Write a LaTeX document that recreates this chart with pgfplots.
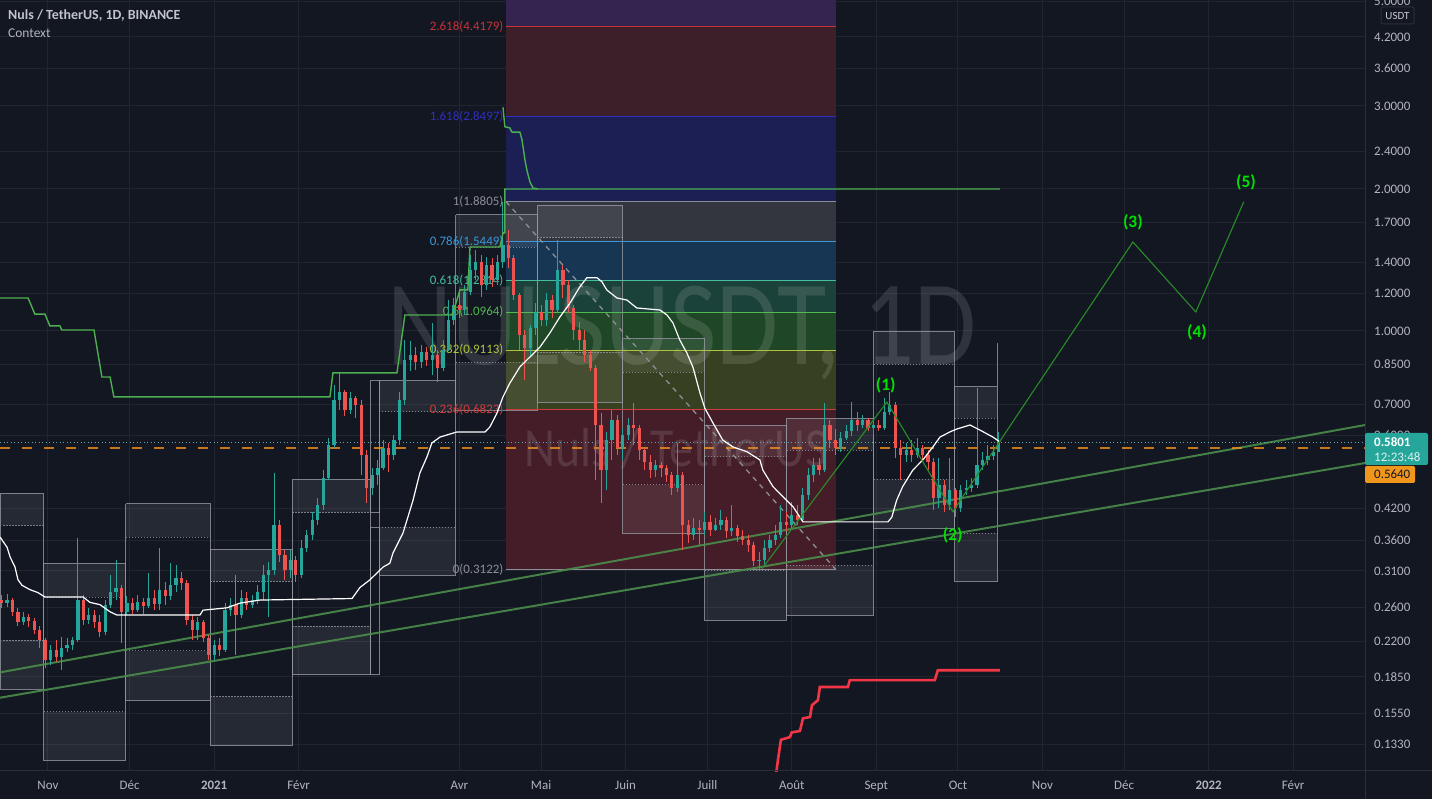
\documentclass[border=0pt]{standalone}
\usepackage{pgfplots}
\pgfplotsset{compat=1.18}
\usepackage{pgfplotstable}
\usepackage{fontspec}
\setmainfont{Carlito}

\definecolor{bg}{RGB}{19,23,34}
\definecolor{gridc}{RGB}{33,37,48}
\definecolor{axtext}{RGB}{178,181,190}
\definecolor{upc}{RGB}{38,166,154}
\definecolor{dnc}{RGB}{239,83,80}
\definecolor{sepc}{RGB}{42,46,57}
\definecolor{dotc}{RGB}{90,170,180}
% fib zones
\definecolor{fA}{RGB}{52,36,80}
\definecolor{fB}{RGB}{61,31,42}
\definecolor{fC}{RGB}{27,31,84}
\definecolor{fD}{RGB}{52,54,63}
\definecolor{fE}{RGB}{23,54,84}
\definecolor{fF}{RGB}{27,66,58}
\definecolor{fG}{RGB}{31,70,38}
\definecolor{fH}{RGB}{55,64,32}
\definecolor{fI}{RGB}{68,29,40}
% fib lines
\definecolor{lA}{RGB}{200,50,55}
\definecolor{lB}{RGB}{48,48,190}
\definecolor{lC}{RGB}{140,142,150}
\definecolor{lD}{RGB}{60,150,215}
\definecolor{lE}{RGB}{70,190,160}
\definecolor{lF}{RGB}{80,185,80}
\definecolor{lG}{RGB}{175,195,60}
\definecolor{lH}{RGB}{205,60,60}
\definecolor{boxc}{RGB}{150,152,160}
\definecolor{trend}{RGB}{75,140,75}
\definecolor{wave}{RGB}{40,140,40}
\definecolor{wavetxt}{RGB}{0,225,0}
\definecolor{stepg}{RGB}{76,175,80}
\definecolor{redband}{RGB}{242,54,69}
\definecolor{lastc}{RGB}{240,145,30}

% candles: day (0 = 1 Jan 2021), open, high, low, close
\pgfplotstableread{
d o h l c
-76 0.265 0.277 0.260 0.269
-70 0.242 0.254 0.238 0.248
-60 0.201 0.216 0.196 0.211
-56 0.204 0.225 0.191 0.213
-54 0.213 0.223 0.209 0.216
-52 0.216 0.225 0.211 0.221
-50 0.221 0.364 0.219 0.269
-46 0.244 0.259 0.239 0.250
-40 0.230 0.269 0.227 0.263
-38 0.263 0.304 0.259 0.280
-36 0.280 0.327 0.269 0.286
-32 0.254 0.275 0.250 0.265
-28 0.256 0.276 0.254 0.266
-24 0.261 0.307 0.259 0.272
-20 0.264 0.346 0.256 0.283
-16 0.275 0.322 0.269 0.289
-14 0.289 0.319 0.280 0.300
-6 0.232 0.248 0.221 0.242
0 0.206 0.221 0.201 0.216
4 0.211 0.265 0.209 0.256
6 0.256 0.272 0.249 0.263
10 0.250 0.283 0.247 0.272
14 0.263 0.276 0.259 0.269
16 0.269 0.289 0.264 0.280
18 0.280 0.319 0.269 0.304
20 0.304 0.324 0.248 0.311
22 0.311 0.500 0.304 0.388
28 0.311 0.343 0.300 0.327
32 0.304 0.361 0.300 0.346
34 0.346 0.379 0.340 0.369
36 0.369 0.413 0.361 0.398
38 0.398 0.442 0.388 0.428
40 0.428 0.507 0.417 0.488
42 0.488 0.593 0.483 0.573
44 0.573 0.768 0.565 0.714
46 0.714 0.815 0.680 0.743
50 0.680 0.743 0.667 0.721
58 0.465 0.512 0.449 0.495
60 0.495 0.533 0.472 0.512
62 0.512 0.587 0.507 0.565
66 0.546 0.602 0.533 0.587
68 0.587 0.743 0.573 0.714
70 0.714 0.957 0.697 0.868
72 0.868 0.952 0.823 0.889
76 0.860 0.934 0.835 0.902
80 0.868 1.040 0.807 0.889
84 0.835 0.957 0.823 0.911
86 0.911 1.163 0.907 1.055
88 1.055 1.175 1.030 1.135
92 1.108 1.252 1.081 1.210
94 1.210 1.449 1.192 1.347
96 1.347 1.485 1.283 1.400
100 1.252 1.435 1.222 1.380
104 1.283 1.449 1.252 1.400
106 1.400 1.8805 1.360 1.522
116 0.920 1.030 0.881 1.015
118 1.015 1.146 0.981 1.096
122 1.055 1.204 1.025 1.163
126 1.108 1.559 1.096 1.347
144 0.507 0.611 0.460 0.587
146 0.587 0.680 0.533 0.648
150 0.565 0.620 0.533 0.602
152 0.602 0.654 0.587 0.632
162 0.507 0.533 0.490 0.520
170 0.465 0.579 0.456 0.495
176 0.369 0.402 0.361 0.383
180 0.379 0.413 0.369 0.394
184 0.379 0.402 0.377 0.388
186 0.388 0.417 0.379 0.398
190 0.376 0.428 0.368 0.383
200 0.325 0.340 0.3122 0.327
202 0.327 0.361 0.319 0.346
204 0.346 0.369 0.340 0.361
206 0.361 0.388 0.352 0.369
208 0.369 0.428 0.364 0.394
212 0.388 0.434 0.383 0.407
216 0.398 0.465 0.394 0.449
218 0.449 0.512 0.438 0.495
220 0.495 0.538 0.478 0.520
224 0.507 0.703 0.502 0.632
230 0.565 0.611 0.553 0.593
232 0.593 0.632 0.587 0.614
234 0.614 0.707 0.599 0.648
238 0.632 0.664 0.623 0.648
242 0.623 0.648 0.602 0.632
246 0.623 0.721 0.617 0.674
248 0.674 0.743 0.664 0.697
254 0.546 0.579 0.528 0.559
258 0.546 0.593 0.538 0.565
266 0.443 0.538 0.421 0.472
270 0.428 0.538 0.417 0.460
274 0.421 0.472 0.413 0.460
276 0.460 0.483 0.449 0.465
278 0.465 0.488 0.456 0.472
280 0.472 0.757 0.465 0.520
282 0.520 0.555 0.507 0.533
284 0.533 0.573 0.520 0.543
286 0.543 0.573 0.533 0.553
288 0.553 0.611 0.553 0.5801
}\up

\pgfplotstableread{
d o h l c
-78 0.269 0.276 0.259 0.265
-74 0.269 0.272 0.249 0.254
-72 0.254 0.259 0.237 0.242
-68 0.248 0.251 0.236 0.243
-66 0.243 0.246 0.228 0.232
-64 0.232 0.237 0.213 0.221
-62 0.221 0.223 0.193 0.201
-58 0.211 0.221 0.199 0.204
-48 0.269 0.276 0.238 0.244
-44 0.250 0.256 0.235 0.242
-42 0.242 0.250 0.225 0.230
-34 0.286 0.289 0.218 0.254
-30 0.265 0.272 0.251 0.256
-26 0.266 0.272 0.251 0.261
-22 0.272 0.283 0.256 0.264
-18 0.283 0.294 0.263 0.275
-12 0.300 0.309 0.283 0.292
-10 0.292 0.297 0.238 0.244
-8 0.244 0.250 0.221 0.232
-4 0.242 0.244 0.219 0.223
-2 0.223 0.227 0.201 0.206
2 0.216 0.223 0.205 0.211
8 0.263 0.304 0.206 0.250
12 0.272 0.280 0.256 0.263
24 0.388 0.398 0.324 0.335
26 0.335 0.343 0.297 0.311
30 0.327 0.333 0.294 0.304
48 0.743 0.750 0.661 0.680
52 0.721 0.728 0.654 0.697
54 0.697 0.714 0.495 0.546
56 0.546 0.559 0.432 0.465
64 0.565 0.579 0.502 0.546
74 0.889 0.925 0.827 0.860
78 0.902 0.925 0.843 0.868
82 0.889 0.911 0.779 0.835
90 1.135 1.222 1.066 1.108
98 1.400 1.449 1.180 1.252
102 1.380 1.428 1.240 1.283
108 1.522 1.637 1.360 1.428
110 1.428 1.449 1.163 1.192
112 1.192 1.204 0.911 0.981
114 0.981 1.005 0.787 0.920
120 1.096 1.135 1.025 1.055
124 1.163 1.192 1.066 1.108
128 1.347 1.380 1.175 1.252
130 1.252 1.283 1.091 1.119
132 1.119 1.135 0.957 1.005
134 1.005 1.045 0.911 0.957
136 0.957 1.005 0.860 0.889
138 0.889 0.911 0.823 0.835
140 0.835 0.847 0.483 0.632
142 0.632 0.670 0.432 0.507
148 0.648 0.664 0.546 0.565
154 0.632 0.703 0.573 0.623
156 0.623 0.632 0.533 0.559
158 0.559 0.565 0.507 0.528
160 0.528 0.546 0.487 0.507
164 0.520 0.528 0.490 0.512
166 0.512 0.520 0.478 0.495
168 0.495 0.502 0.449 0.465
172 0.495 0.502 0.343 0.388
174 0.388 0.398 0.355 0.369
178 0.383 0.398 0.352 0.379
182 0.394 0.407 0.368 0.379
188 0.398 0.404 0.364 0.376
192 0.383 0.388 0.357 0.367
194 0.367 0.379 0.352 0.361
196 0.361 0.369 0.340 0.352
198 0.352 0.357 0.318 0.325
210 0.394 0.413 0.377 0.388
214 0.407 0.428 0.388 0.398
222 0.520 0.538 0.495 0.507
226 0.632 0.648 0.565 0.587
228 0.587 0.620 0.546 0.565
236 0.648 0.673 0.614 0.632
240 0.648 0.654 0.614 0.623
244 0.632 0.648 0.614 0.623
250 0.697 0.707 0.538 0.565
252 0.565 0.587 0.483 0.546
256 0.559 0.587 0.528 0.546
260 0.565 0.573 0.528 0.546
262 0.546 0.559 0.507 0.528
264 0.528 0.538 0.417 0.443
268 0.472 0.483 0.413 0.428
272 0.460 0.465 0.403 0.421
}\down

% fib band between two prices
\newcommand\fibband[3]{\addplot[fill=#3, draw=none] coordinates {(107.1,#1)(228.2,#1)(228.2,#2)(107.1,#2)};}
% fib level line with its label
\newcommand\fibline[3]{%
  \addplot[#2, line width=1bp] coordinates {(107.1,#1)(228.2,#1)};
  \node[anchor=east, text=#2, font=\fontsize{13}{13}\selectfont, inner sep=0pt] at (axis cs:106.2,#1) {#3};}
% monthly range box: x1 x2, top band A-B, bottom band C-D
\newcommand\monthbox[6]{%
  \addplot[fill=white, fill opacity=0.08, draw=none] coordinates {(#1,#3)(#2,#3)(#2,#4)(#1,#4)};
  \addplot[fill=white, fill opacity=0.08, draw=none] coordinates {(#1,#5)(#2,#5)(#2,#6)(#1,#6)};
  \addplot[boxc, line width=0.9bp, opacity=0.8] coordinates {(#1,#3)(#2,#3)(#2,#6)(#1,#6)(#1,#3)};
  \addplot[boxc, line width=0.8bp, opacity=0.8, dash pattern=on 1.5bp off 1.5bp] coordinates {(#1,#4)(#2,#4)};
  \addplot[boxc, line width=0.8bp, opacity=0.8, dash pattern=on 1.5bp off 1.5bp] coordinates {(#1,#5)(#2,#5)};}

\begin{document}
\begin{tikzpicture}
\useasboundingbox (0bp,0bp) rectangle (1432bp,799bp);
\fill[bg] (0bp,0bp) rectangle (1432bp,799bp);
\begin{axis}[
  at={(0bp,28bp)}, anchor=south west,
  scale only axis, width=1365bp, height=771bp,
  xmin=-78.6, xmax=422.4,
  ymode=log, ymin=0.11679, ymax=5.03,
  axis line style={draw=none},
  major tick length=0pt,
  xtick={-61,-31,0,31,90,120,151,181,212,243,273,304,334,365,396},
  xticklabels={Nov,Déc,\textbf{2021},Févr,Avr,Mai,Juin,Juill,Août,Sept,Oct,Nov,Déc,\textbf{2022},Févr},
  ytick={5,4.2,3.6,3.0,2.4,2.0,1.7,1.4,1.2,1.0,0.85,0.7,0.6,0.42,0.36,0.31,0.26,0.22,0.185,0.155,0.133},
  yticklabels={5.0000,4.2000,3.6000,3.0000,2.4000,2.0000,1.7000,1.4000,1.2000,1.0000,0.8500,0.7000,0.6000,0.4200,0.3600,0.3100,0.2600,0.2200,0.1850,0.1550,0.1330},
  yticklabel pos=right,
  xmajorgrids, ymajorgrids,
  grid style={gridc, line width=1bp},
  tick label style={font=\fontsize{13}{13}\selectfont, text=axtext, inner sep=0pt},
  xticklabel style={anchor=base, yshift=-18.5bp},
  yticklabel style={anchor=west, xshift=9bp},
]
% Fibonacci zones
\fibband{4.4179}{6}{fA}
\fibband{2.8497}{4.4179}{fB}
\fibband{1.8805}{2.8497}{fC}
\fibband{1.5449}{1.8805}{fD}
\fibband{1.2814}{1.5449}{fE}
\fibband{1.0964}{1.2814}{fF}
\fibband{0.9113}{1.0964}{fG}
\fibband{0.6823}{0.9113}{fH}
\fibband{0.3122}{0.6823}{fI}

% watermark
\node[text=white, text opacity=0.12, font=\fontsize{101}{101}\selectfont] at (axis cs:171.7,0.99) {\scalebox{1}[1.2]{NULSUSDT, 1D}};
\node[text=white, text opacity=0.12, font=\fontsize{48}{48}\selectfont] at (axis cs:169.5,0.564) {\scalebox{1}[1.15]{Nuls / TetherUS}};

% monthly range boxes
\monthbox{-78.6}{-62.5}{0.453}{0.388}{0.221}{0.174}
\monthbox{-62.5}{-32.4}{0.322}{0.273}{0.156}{0.123}
\monthbox{-32.4}{-1.5}{0.430}{0.366}{0.210}{0.165}
\monthbox{-1.5}{28.6}{0.345}{0.295}{0.168}{0.132}
\monthbox{28.6}{57.5}{0.485}{0.413}{0.237}{0.187}
\addplot[boxc, line width=0.9bp, opacity=0.8] coordinates {(57.5,0.787)(60.5,0.787)(60.5,0.413)(57.5,0.413)(57.5,0.787)};
\addplot[boxc, line width=0.9bp, opacity=0.8] coordinates {(57.5,0.384)(60.5,0.384)(60.5,0.187)(57.5,0.187)(57.5,0.384)};
\monthbox{60.5}{88.7}{0.787}{0.674}{0.384}{0.304}
\monthbox{88.7}{118.5}{1.762}{1.507}{0.860}{0.680}
\monthbox{118.5}{150}{1.849}{1.582}{0.902}{0.707}
\monthbox{150}{180.1}{0.962}{0.819}{0.472}{0.373}
\monthbox{180.1}{210.2}{0.632}{0.541}{0.311}{0.244}
\monthbox{210.2}{242.1}{0.654}{0.559}{0.319}{0.250}
\monthbox{242.1}{271.8}{1.000}{0.851}{0.485}{0.382}
\monthbox{271.8}{287.6}{0.764}{0.654}{0.373}{0.295}
\addplot[boxc, line width=0.9bp, opacity=0.8] coordinates {(287.6,0.943)(287.6,0.764)};

% Fibonacci levels
\fibline{4.4179}{lA}{2.618(4.4179)}
\fibline{2.8497}{lB}{1.618(2.8497)}
\fibline{1.8805}{lC}{1(1.8805)}
\fibline{1.5449}{lD}{0.786(1.5449)}
\fibline{1.2814}{lE}{0.618(1.2814)}
\fibline{1.0964}{lF}{0.5(1.0964)}
\fibline{0.9113}{lG}{0.382(0.9113)}
\fibline{0.6823}{lH}{0.236(0.6823)}
\fibline{0.3122}{lC}{0(0.3122)}
\addplot[lC, line width=1.3bp, dash pattern=on 5bp off 5bp] coordinates {(107.1,1.8805)(228.2,0.3122)};

% rising channel
\addplot[trend, line width=2bp, opacity=0.9] coordinates {(-78.6,0.189)(422.4,0.632)};
\addplot[trend, line width=2bp, opacity=0.9] coordinates {(-78.6,0.167)(422.4,0.525)};

% last price lines
\addplot[lastc, line width=2bp, opacity=0.8, dash pattern=on 10bp off 12bp] coordinates {(-78.6,0.564)(422.4,0.564)};
\addplot[dotc, line width=0.8bp, dash pattern=on 1bp off 2.5bp] coordinates {(-78.6,0.5801)(422.4,0.5801)};

% candles: wicks then bodies
\addplot[draw=none, mark=none, error bars/.cd, y dir=both, y explicit, error mark=none,
  error bar style={draw=upc, line width=1bp}]
  table[x=d, y=c, y error plus expr=\thisrow{h}-\thisrow{c}, y error minus expr=\thisrow{c}-\thisrow{l}] {\up};
\addplot[draw=none, mark=none, error bars/.cd, y dir=both, y explicit, error mark=none,
  error bar style={draw=dnc, line width=1bp}]
  table[x=d, y=c, y error plus expr=\thisrow{h}-\thisrow{c}, y error minus expr=\thisrow{c}-\thisrow{l}] {\down};
\addplot[draw=none, mark=none, error bars/.cd, y dir=minus, y explicit, error mark=none,
  error bar style={draw=upc, line width=3.2bp}]
  table[x=d, y=c, y error expr=\thisrow{c}-\thisrow{o}] {\up};
\addplot[draw=none, mark=none, error bars/.cd, y dir=plus, y explicit, error mark=none,
  error bar style={draw=dnc, line width=3.2bp}]
  table[x=d, y=c, y error expr=\thisrow{o}-\thisrow{c}] {\down};

% context line (white)
\addplot[white, line width=1.2bp] coordinates {
(-78.6,0.366)(-76.0,0.348)(-74.9,0.332)(-73.1,0.316)(-72.0,0.297)(-70.5,0.289)(-67.6,0.283)
(-64.7,0.279)(-62.1,0.273)(-48.1,0.273)(-45.6,0.266)(-41.9,0.263)(-38.2,0.254)(-35.7,0.250)
(-5.2,0.250)(-4.1,0.256)(4.7,0.259)(9.5,0.265)(16.8,0.269)(50.6,0.271)(53.5,0.286)(57.2,0.297)
(62.0,0.316)(64.5,0.322)(65.6,0.338)(69.3,0.373)(70.8,0.398)(73.0,0.438)(75.5,0.500)(78.1,0.541)
(79.9,0.579)(82.9,0.596)(89.1,0.611)(99.4,0.611)(101.2,0.626)(103.8,0.670)(106.0,0.725)
(108.5,0.775)(112.2,0.839)(115.9,0.881)(119.6,0.925)(123.2,0.990)(126.9,1.071)(130.6,1.146)
(134.2,1.240)(136.8,1.297)(140.5,1.297)(142.3,1.272)(144.1,1.222)(147.8,1.175)(151.5,1.163)
(155.1,1.119)(163.6,1.108)(166.2,1.081)(168.4,1.040)(170.9,0.957)(173.5,0.898)(175.7,0.839)
(178.3,0.739)(180.1,0.686)(183.1,0.638)(186.7,0.587)(190.4,0.568)(195.5,0.555)(200.3,0.533)
(201.4,0.507)(205.1,0.468)(208.8,0.445)(212.5,0.424)(216.1,0.394)(247.3,0.394)(248.7,0.403)
(250.5,0.438)(252.7,0.468)(256.4,0.507)(260.1,0.533)(263.8,0.568)(266.4,0.596)(270.0,0.611)
(272.6,0.620)(277.4,0.632)(281.0,0.617)(285.8,0.596)(288.4,0.582)};

% upper band (green steps)
\addplot[stepg, line width=1.4bp] coordinates {
(-78.6,1.175)(-68.3,1.175)(-65.8,1.086)(-62.1,1.086)(-60.3,1.025)(-56.6,1.025)(-55.9,1.005)
(-44.1,1.005)(-41.2,0.799)(-38.2,0.799)(-36.8,0.725)(42.5,0.725)(43.6,0.815)(67.1,0.815)
(70.0,1.081)(87.3,1.081)(89.1,1.163)(90.2,1.222)(93.1,1.222)(93.9,1.507)(104.9,1.507)
(106.0,1.614)(106.7,1.614)(106.7,2.0)(288.4,2.0)};
\addplot[stepg, line width=1.4bp] coordinates {
(106.0,2.98)(106.7,2.71)(108.5,2.695)(109.3,2.64)(112.2,2.64)(113.0,2.54)(114.1,2.30)
(114.8,2.19)(115.9,2.07)(117.0,2.01)(118.8,2.0)};
% lower band (red steps)
\addplot[redband, line width=2.6bp] coordinates {
(205.8,0.110)(206.9,0.123)(208.0,0.136)(211.3,0.1378)(212.0,0.141)(215.0,0.142)(216.1,0.151)
(218.7,0.152)(219.4,0.161)(221.6,0.165)(222.3,0.176)(232.6,0.176)(233.3,0.182)(264.5,0.182)
(265.6,0.191)(288.4,0.191)};

% Elliott count
\addplot[wave, line width=1.1bp] coordinates {
(201.0,0.313)(246.9,0.707)(271.1,0.414)(337.2,1.544)(360.3,1.097)(377.9,1.880)};
\begin{scope}[every node/.style={text=wavetxt, font=\bfseries\fontsize{17.5}{17.5}\selectfont}]
\node at (axis cs:246.5,0.768) {(1)};
\node at (axis cs:271.1,0.368) {(2)};
\node at (axis cs:337.2,1.70) {(3)};
\node at (axis cs:360.7,0.995) {(4)};
\node at (axis cs:378.7,2.07) {(5)};
\end{scope}
\end{axis}

\begin{scope}[x=1bp,y=1bp]
% panel separators
\draw[sepc, line width=1bp] (1365,0) -- (1365,799);
\draw[sepc, line width=1bp] (0,28) -- (1432,28);

% header
\node[anchor=west, text=axtext!80!white, font=\bfseries\fontsize{14}{14}\selectfont, inner sep=0pt] at (8,783) {Nuls / TetherUS, 1D, BINANCE};
\node[anchor=west, text=axtext, font=\fontsize{13.5}{13.5}\selectfont, inner sep=0pt] at (8,766) {Context};

% price scale badges
\fill[bg] (1381,775) rectangle (1414,792);
\draw[sepc, line width=1bp, rounded corners=2bp] (1381,775) rectangle (1414,792);
\node[text=axtext!70!white, font=\fontsize{11}{11}\selectfont] at (1397.5,783.5) {USDT};
\fill[upc, rounded corners=2bp] (1365,334) rectangle (1428,366);
\node[anchor=west, text=white, font=\bfseries\fontsize{13}{13}\selectfont, inner sep=0pt] at (1374,357) {0.5801};
\node[anchor=west, text=white!85!upc, font=\fontsize{13}{13}\selectfont, inner sep=0pt] at (1374,342) {12:23:48};
\fill[lastc!95!yellow, rounded corners=1.5bp] (1365,316) rectangle (1415,333);
\node[anchor=west, text=bg, font=\fontsize{13}{13}\selectfont, inner sep=0pt] at (1374,324.5) {0.5640};
\end{scope}
\end{tikzpicture}
\end{document}
